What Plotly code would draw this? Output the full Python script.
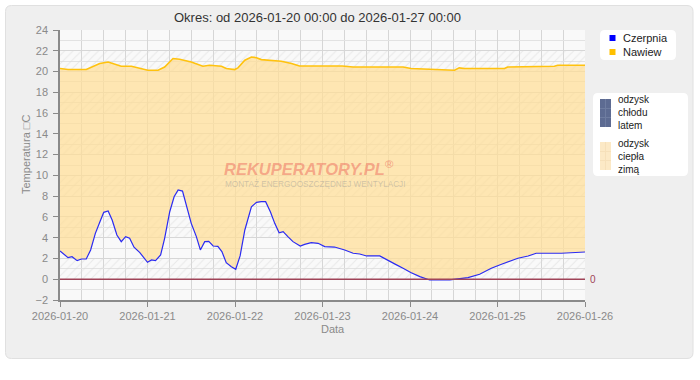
import pandas as pd
import plotly.graph_objects as go

# ---------------- data ----------------
start = "2026-01-20 00:00"
end = "2026-01-26 00:00"

czerpnia_hours = [0, 2.2, 3.3, 4.7, 5.9, 7.2, 8.4, 9.7, 10.9, 12, 13.2, 14.3, 15.6, 16.8, 18, 19.1,
                  20.3, 21.9, 24, 25.1, 26.2, 27.6, 28.7, 30.1, 31.3, 32.4, 33.6, 34.7, 36, 37.4,
                  38.5, 39.7, 40.8, 42, 43.3, 44.4, 45.6, 47, 48.2, 49.4, 50.7, 52.5, 53.9, 55.2,
                  56.4, 57.7, 58.9, 60.1, 61.2, 62.5, 63.9, 65.9, 67.1, 68.9, 70.8, 72.6, 75.3,
                  78.1, 80.4, 82.2, 84.1, 87.7, 89.6, 92.3, 94.1, 96.2, 98.7, 101.4, 106.9, 109.2,
                  111.9, 115.1, 118.3, 121.1, 122.9, 125.6, 128.4, 130.6, 137.5, 141.6, 144]
czerpnia_values = [2.72, 2.08, 2.17, 1.79, 1.95, 1.95, 2.82, 4.42, 5.48, 6.44, 6.57, 5.7, 4.26, 3.62,
                   4.1, 3.94, 3.08, 2.56, 1.63, 1.86, 1.79, 2.34, 3.94, 6.5, 7.94, 8.59, 8.49, 6.98,
                   5.38, 4.1, 2.82, 3.62, 3.65, 3.2, 3.17, 2.66, 1.6, 1.2, 0.96, 2.24, 4.74, 6.98,
                   7.4, 7.47, 7.47, 6.5, 5.38, 4.48, 4.58, 4.1, 3.62, 3.2, 3.36, 3.52, 3.46, 3.14,
                   3.1, 2.82, 2.5, 2.43, 2.24, 2.24, 1.86, 1.38, 1.06, 0.65, 0.25, -0.07, -0.07,
                   0.06, 0.15, 0.48, 1.06, 1.44, 1.69, 2.02, 2.24, 2.5, 2.5, 2.62, 2.62]

nawiew_hours = [0, 2.2, 7.2, 8.6, 10.9, 13.2, 14.5, 16.8, 19.6, 21.9, 24.1, 26.9, 28.7, 31, 32.8,
                36, 39.2, 41, 44.3, 45.6, 47.9, 48.8, 50.7, 52.5, 53.9, 55.2, 58, 60.7, 63.5,
                65.7, 72.6, 77.4, 80.4, 94.1, 96.3, 102.7, 108.2, 109.5, 110.9, 121.9, 122.8,
                135.6, 136.5, 144]
nawiew_values = [20.29, 20.19, 20.19, 20.38, 20.77, 20.92, 20.77, 20.51, 20.51, 20.35, 20.13, 20.13,
                 20.44, 21.25, 21.18, 20.92, 20.51, 20.6, 20.51, 20.29, 20.19, 20.35, 21.09, 21.4,
                 21.33, 21.15, 21.09, 20.99, 20.77, 20.54, 20.54, 20.54, 20.44, 20.44, 20.29, 20.19,
                 20.13, 20.35, 20.29, 20.29, 20.44, 20.51, 20.6, 20.6]

hatch_bands = [(0, 2), (4, 6), (8, 10), (12, 14), (16, 18), (20, 22)]
y_ticks = [-2, 0, 2, 4, 6, 8, 10, 12, 14, 16, 18, 20, 22, 24]

title_text = "Okres: od 2026-01-20 00:00 do 2026-01-27 00:00"
y_title = "Temperatura \u25a1C"
x_title = "Data"
legend1 = ["Czerpnia", "Nawiew"]
legend2 = ["odzysk<br>chłodu<br>latem", "odzysk<br>ciepła<br>zimą"]

# ---------------- build ----------------
base = pd.Timestamp(start)
cz_x = base + pd.to_timedelta(czerpnia_hours, unit="h")
nw_x = base + pd.to_timedelta(nawiew_hours, unit="h")

FONT = "Liberation Sans, Arial, sans-serif"
BLUE = "#2B2BF2"
ORANGE = "#FFC20E"
FILL = "rgba(255,222,150,0.72)"
ZERO = "#A04458"

# plot area in pixels
L, R, T, B = 60, 585, 30, 300
W, H = R - L, B - T


def px(x):
    return (x - L) / W


def py(y):
    return (B - y) / H


fig = go.Figure()

# hatched bands
for lo, hi in hatch_bands:
    fig.add_trace(go.Scatter(
        x=[start, end, end, start, start], y=[lo, lo, hi, hi, lo],
        mode="lines", line=dict(width=0), fill="toself",
        fillcolor="rgba(0,0,0,0)",
        fillpattern=dict(shape="/", fgcolor="#D9D9D9", bgcolor="rgba(0,0,0,0)",
                         size=6, solidity=0.18),
        hoverinfo="skip", showlegend=False))

# base line for fill
fig.add_trace(go.Scatter(x=cz_x, y=czerpnia_values, mode="lines",
                         line=dict(width=0, color=BLUE), showlegend=False, hoverinfo="skip"))
fig.add_trace(go.Scatter(x=nw_x, y=nawiew_values, mode="lines", name="Nawiew",
                         line=dict(width=1.6, color=ORANGE), fill="tonexty",
                         fillcolor=FILL, showlegend=False))
fig.add_trace(go.Scatter(x=cz_x, y=czerpnia_values, mode="lines", name="Czerpnia",
                         line=dict(width=1.2, color=BLUE), showlegend=False))


def rrect(x0, y0, x1, y1, r):
    X0, X1 = px(x0), px(x1)
    Y0, Y1 = py(y0), py(y1)
    rx, ry = r / W, r / H
    return (f"M {X0+rx},{Y0} L {X1-rx},{Y0} Q {X1},{Y0} {X1},{Y0-ry} "
            f"L {X1},{Y1+ry} Q {X1},{Y1} {X1-rx},{Y1} L {X0+rx},{Y1} "
            f"Q {X0},{Y1} {X0},{Y1+ry} L {X0},{Y0-ry} Q {X0},{Y0} {X0+rx},{Y0} Z")


shapes = []
# outer gray panel
shapes.append(dict(type="path", xref="paper", yref="paper", layer="below",
                   path=rrect(5.5, 5.5, 693, 358.5, 6), fillcolor="#EFEFEF",
                   line=dict(color="#E0E0E0", width=1)))
# plot background
shapes.append(dict(type="rect", xref="paper", yref="paper", layer="below",
                   x0=0, x1=1, y0=0, y1=1, fillcolor="#F9F9F9", line=dict(width=0)))
# zero line
shapes.append(dict(type="line", xref="paper", yref="y", x0=0, x1=1, y0=0, y1=0,
                   line=dict(color=ZERO, width=1.5), layer="above"))
# legend boxes
shapes.append(dict(type="path", xref="paper", yref="paper", path=rrect(600, 30, 676, 60, 5),
                   fillcolor="white", line=dict(width=0)))
shapes.append(dict(type="path", xref="paper", yref="paper", path=rrect(593, 93, 688, 176, 5),
                   fillcolor="white", line=dict(width=0)))
# legend markers
shapes.append(dict(type="rect", xref="paper", yref="paper", x0=px(609.5), x1=px(615.5),
                   y0=py(35), y1=py(41), fillcolor="#0000FF", line=dict(width=0)))
shapes.append(dict(type="rect", xref="paper", yref="paper", x0=px(609.5), x1=px(615.5),
                   y0=py(49), y1=py(55), fillcolor="#FFC000", line=dict(width=0)))
# swatches
shapes.append(dict(type="rect", xref="paper", yref="paper", x0=px(600), x1=px(611),
                   y0=py(99), y1=py(127), fillcolor="#5D6B92", line=dict(width=0)))
shapes.append(dict(type="rect", xref="paper", yref="paper", x0=px(600), x1=px(611),
                   y0=py(142), y1=py(170), fillcolor="#FCE9C6", line=dict(width=0)))
for yy in (108.5, 117.5):
    shapes.append(dict(type="line", xref="paper", yref="paper", x0=px(600), x1=px(611),
                       y0=py(yy), y1=py(yy), line=dict(color="#6E7CA0", width=1)))
    shapes.append(dict(type="line", xref="paper", yref="paper", x0=px(600), x1=px(611),
                       y0=py(yy + 43), y1=py(yy + 43), line=dict(color="#F6E0BA", width=1)))
shapes.append(dict(type="line", xref="paper", yref="paper", x0=px(605.5), x1=px(605.5),
                   y0=py(99), y1=py(127), line=dict(color="#6E7CA0", width=1)))
shapes.append(dict(type="line", xref="paper", yref="paper", x0=px(605.5), x1=px(605.5),
                   y0=py(142), y1=py(170), line=dict(color="#F6E0BA", width=1)))

annotations = [
    dict(text=title_text, x=px(317), y=py(17), xref="paper", yref="paper", showarrow=False,
         xanchor="center", yanchor="middle", font=dict(family=FONT, size=13, color="#333333")),
    dict(text=y_title, x=px(26), y=py(155), xref="paper", yref="paper", showarrow=False,
         textangle=-90, xanchor="center", yanchor="middle",
         font=dict(family=FONT, size=11, color="#8A8A8A")),
    dict(text=x_title, x=px(333), y=py(329), xref="paper", yref="paper", showarrow=False,
         xanchor="center", yanchor="middle", font=dict(family=FONT, size=11, color="#8A8A8A")),
    dict(text="0", x=px(588), y=0, xref="paper", yref="y", showarrow=False,
         xanchor="left", yanchor="middle", font=dict(family=FONT, size=10, color=ZERO)),
    dict(text="REKUPERATORY.PL<sup>®</sup>", x=px(222), y=py(168), xref="paper", yref="paper",
         showarrow=False, xanchor="left", yanchor="middle",
         font=dict(family=FONT, size=16.5, weight="bold", style="italic",
                   color="rgba(235,90,80,0.45)")),
    dict(text="MONTAŻ ENERGOOSZCZĘDNEJ WENTYLACJI", x=px(223), y=py(184), xref="paper",
         yref="paper", showarrow=False, xanchor="left", yanchor="middle",
         font=dict(family=FONT, size=8.2, color="rgba(150,150,150,0.45)")),
    dict(text=legend1[0], x=px(621), y=py(38), xref="paper", yref="paper", showarrow=False,
         xanchor="left", yanchor="middle", font=dict(family=FONT, size=11, color="#222222")),
    dict(text=legend1[1], x=px(621), y=py(52), xref="paper", yref="paper", showarrow=False,
         xanchor="left", yanchor="middle", font=dict(family=FONT, size=11, color="#222222")),
    dict(text=legend2[0], x=px(616), y=py(112.5), xref="paper", yref="paper", showarrow=False,
         xanchor="left", yanchor="middle", align="left",
         font=dict(family=FONT, size=10, color="#222222")),
    dict(text=legend2[1], x=px(616), y=py(156), xref="paper", yref="paper", showarrow=False,
         xanchor="left", yanchor="middle", align="left",
         font=dict(family=FONT, size=10, color="#222222")),
]

fig.update_layout(
    width=700, height=380,
    margin=dict(l=L, r=700 - R, t=T, b=380 - B, pad=0),
    paper_bgcolor="white", plot_bgcolor="rgba(0,0,0,0)",
    showlegend=False, shapes=shapes, annotations=annotations,
    font=dict(family=FONT), hovermode=False,
)
fig.update_xaxes(
    range=[start, end], type="date", tickformat="%Y-%m-%d", dtick=86400000,
    tick0=start, ticks="outside", ticklen=5, tickcolor="#8A8A8A",
    showline=True, linecolor="#8A8A8A", linewidth=1.5,
    showgrid=True, gridcolor="#D6D6D6", gridwidth=1,
    minor=dict(dtick=6 * 3600000, showgrid=True, gridcolor="#D6D6D6", gridwidth=1, ticks=""),
    tickfont=dict(family=FONT, size=11, color="#8A8A8A"), zeroline=False,
)
fig.update_yaxes(
    range=[-2, 24], tickvals=y_ticks, ticks="outside", ticklen=5, tickcolor="#8A8A8A",
    showline=True, linecolor="#8A8A8A", linewidth=1.5,
    showgrid=True, gridcolor="#D6D6D6", gridwidth=1,
    minor=dict(dtick=1, showgrid=True, gridcolor="#E2E2E2", gridwidth=1, ticks=""),
    tickfont=dict(family=FONT, size=11, color="#8A8A8A"), zeroline=False,
    ticklabelstandoff=3,
)

fig.write_html("out.html", config={"displayModeBar": False},
               post_script="document.body.style.margin='0';document.body.style.overflow='hidden';")
